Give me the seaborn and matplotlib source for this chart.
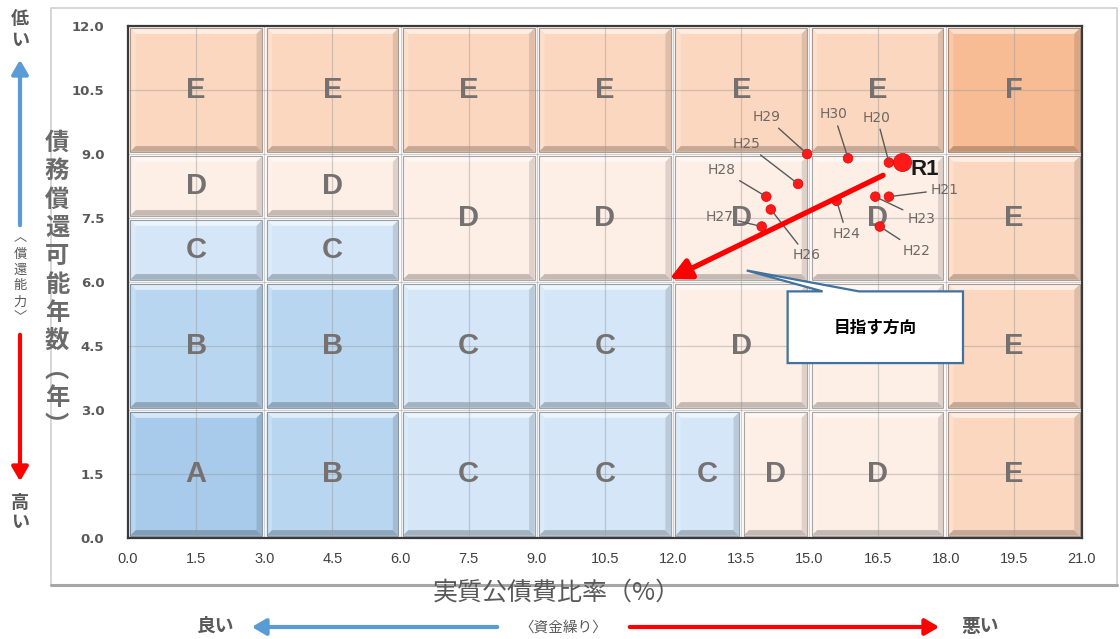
import numpy as np
import pandas as pd
import matplotlib
matplotlib.use("Agg")
import matplotlib.pyplot as plt
import matplotlib.colors as mcolors
from matplotlib.patches import Rectangle, Polygon, FancyArrowPatch
from matplotlib.lines import Line2D
import seaborn as sns

# ---------------- data ----------------
# grade cells: x-range, y-range, grade
cell_x0 = [0, 3, 6, 9, 12, 15, 18,
           0, 3, 0, 3, 6, 9, 12, 15, 18,
           0, 3, 6, 9, 12, 15, 18,
           0, 3, 6, 9, 12, 13.5, 15, 18]
cell_x1 = [3, 6, 9, 12, 15, 18, 21,
           3, 6, 3, 6, 9, 12, 15, 18, 21,
           3, 6, 9, 12, 15, 18, 21,
           3, 6, 9, 12, 13.5, 15, 18, 21]
cell_y0 = [9, 9, 9, 9, 9, 9, 9,
           7.5, 7.5, 6, 6, 6, 6, 6, 6, 6,
           3, 3, 3, 3, 3, 3, 3,
           0, 0, 0, 0, 0, 0, 0, 0]
cell_y1 = [12, 12, 12, 12, 12, 12, 12,
           9, 9, 7.5, 7.5, 9, 9, 9, 9, 9,
           6, 6, 6, 6, 6, 6, 6,
           3, 3, 3, 3, 3, 3, 3, 3]
cell_grade = ["E", "E", "E", "E", "E", "E", "F",
              "D", "D", "C", "C", "D", "D", "D", "D", "E",
              "B", "B", "C", "C", "D", "D", "E",
              "A", "B", "C", "C", "C", "D", "D", "E"]

# yearly results: 実質公債費比率 (%), 債務償還可能年数 (年)
years = ["H20", "H21", "H22", "H23", "H24", "H25", "H26", "H27", "H28", "H29", "H30", "R1"]
ratio = [16.75, 16.75, 16.55, 16.45, 15.6, 14.75, 14.15, 13.95, 14.05, 14.95, 15.85, 17.05]
years_repay = [8.8, 8.0, 7.3, 8.0, 7.9, 8.3, 7.7, 7.3, 8.0, 9.0, 8.9, 8.8]

x_ticks = [0.0, 1.5, 3.0, 4.5, 6.0, 7.5, 9.0, 10.5, 12.0, 13.5, 15.0, 16.5, 18.0, 19.5, 21.0]
y_ticks = [0.0, 1.5, 3.0, 4.5, 6.0, 7.5, 9.0, 10.5, 12.0]

x_title = "実質公債費比率（%）"
y_title = "債務償還可能年数︵年︶"

# ---------------- styles ----------------
grade_colors = {"A": "#A8CAEB", "B": "#B9D6F0", "C": "#D4E6F8",
                "D": "#FDEEE6", "E": "#FCD7C0", "F": "#F8BC94"}
label_offsets = {  # pixel offsets of point labels
    "H20": (-12, 45), "H21": (56, 7), "H22": (37, -24), "H23": (46, -22),
    "H24": (10, -33), "H25": (-52, 40), "H26": (36, -46), "H27": (-42, 10),
    "H28": (-45, 27), "H29": (-41, 37), "H30": (-14, 44), "R1": (22, -7),
}

sns.set_theme(style="white")
plt.rcParams["font.family"] = ["Noto Sans CJK JP", "DejaVu Sans"]

W, H = 1120, 639
fig = plt.figure(figsize=(W / 100, H / 100), dpi=100)
fig.patch.set_facecolor("white")

L, R, T, B = 128, 1082, 26, 538
ax = fig.add_axes([L / W, 1 - B / H, (R - L) / W, (B - T) / H])
ax.set_xlim(0, 21)
ax.set_ylim(0, 12)
ax.set_facecolor("white")


def px(x, y):
    return (x / W, 1 - y / H)


def shade(c, f):
    r = np.array(mcolors.to_rgb(c))
    if f >= 0:
        return tuple(r + (1 - r) * f)
    return tuple(r * (1 + f))


# ---------------- cells with bevel ----------------
gx, gy = 0.05, 0.055
bx, by = 0.12, 0.13
for x0, x1, y0, y1, g in zip(cell_x0, cell_x1, cell_y0, cell_y1, cell_grade):
    c = grade_colors[g]
    a0, a1, b0, b1 = x0 + gx, x1 - gx, y0 + gy, y1 - gy
    ax.add_patch(Rectangle((a0, b0), a1 - a0, b1 - b0, facecolor=c, edgecolor="none", zorder=1))
    ax.add_patch(Polygon([(a0, b1), (a1, b1), (a1 - bx, b1 - by), (a0 + bx, b1 - by)],
                         facecolor=shade(c, 0.55), edgecolor="none", zorder=1.1))
    ax.add_patch(Polygon([(a0, b0), (a0, b1), (a0 + bx, b1 - by), (a0 + bx, b0 + by)],
                         facecolor=shade(c, 0.2), edgecolor="none", zorder=1.1))
    ax.add_patch(Polygon([(a0, b0), (a1, b0), (a1 - bx, b0 + by), (a0 + bx, b0 + by)],
                         facecolor=shade(c, -0.22), edgecolor="none", zorder=1.1))
    ax.add_patch(Polygon([(a1, b0), (a1, b1), (a1 - bx, b1 - by), (a1 - bx, b0 + by)],
                         facecolor=shade(c, -0.12), edgecolor="none", zorder=1.1))
    ax.add_patch(Rectangle((a0, b0), a1 - a0, b1 - b0, facecolor="none",
                           edgecolor=shade(c, -0.45), lw=0.8, alpha=0.7, zorder=1.2))
    cx, cy = (x0 + x1) / 2, (y0 + y1) / 2
    # the label of a cell hidden under the callout box is not drawn (as in the reference)
    if not (14.5 < cx < 18.4 and 4.1 < cy < 5.8):
        ax.text(cx, cy, g, ha="center", va="center",
                fontsize=21, fontweight="bold", color="#767171",
                family=["Liberation Sans", "DejaVu Sans"], zorder=3)

# ---------------- axes styling ----------------
ax.set_xticks(x_ticks)
ax.set_yticks(y_ticks)
ax.set_xticklabels([f"{v:.1f}" for v in x_ticks], family=["Liberation Sans Narrow", "Liberation Sans"],
                   fontsize=10.5, color="#404040")
ax.set_yticklabels([f"{v:.1f}" for v in y_ticks], family=["DejaVu Sans"],
                   fontsize=9.5, fontweight="bold", color="#595959")
ax.tick_params(axis="both", length=0)
ax.tick_params(axis="y", pad=17)
ax.tick_params(axis="x", pad=10)
ax.grid(True, color="#9a9a9a", lw=0.9, alpha=0.45)
ax.set_axisbelow(False)
for s in ax.spines.values():
    s.set_color("#3a3a3a")
    s.set_linewidth(1.6)
    s.set_zorder(8)

# ---------------- points ----------------
df = pd.DataFrame({"year": years, "x": ratio, "y": years_repay})
df["kind"] = np.where(df["year"].str.startswith("R"), "R", "H")
sns.scatterplot(data=df, x="x", y="y", size="kind", sizes={"H": 48, "R": 170},
                color="#FF1A1A", edgecolor="#E00000", linewidth=0.5, legend=False, ax=ax, zorder=6)
ax.set_xlabel("")
ax.set_ylabel("")

for _, r in df.iterrows():
    dx, dy = label_offsets[r["year"]]
    if r["kind"] == "R":
        ax.annotate(r["year"], xy=(r["x"], r["y"]), xytext=(dx, dy), textcoords="offset pixels",
                    ha="center", va="center", fontsize=16, fontweight="bold", color="#1a1a1a",
                    family=["Liberation Sans", "DejaVu Sans"], zorder=7)
    else:
        ax.annotate(r["year"], xy=(r["x"], r["y"]), xytext=(dx, dy), textcoords="offset pixels",
                    ha="center", va="center", fontsize=10, color="#6e6864",
                    family=["DejaVu Sans"], zorder=7,
                    arrowprops=dict(arrowstyle="-", color="#595959", lw=1.0, shrinkA=1, shrinkB=3))

# direction arrow
ax.annotate("", xy=(11.92, 6.07), xytext=(16.62, 8.5),
            arrowprops=dict(arrowstyle="-|>,head_length=0.9,head_width=0.45", color="#FF0000",
                            lw=3.8, mutation_scale=14, shrinkA=0, shrinkB=0), zorder=7)

# callout
bx0, bx1, by0, by1 = 14.52, 18.38, 4.10, 5.78
ax.add_patch(Polygon([(bx0, by1), (15.29, by1), (13.62, 6.27), (16.09, by1), (bx1, by1),
                      (bx1, by0), (bx0, by0)], closed=True, facecolor="white",
                     edgecolor="#41719C", lw=1.6, zorder=9))
ax.text((bx0 + bx1) / 2, (by0 + by1) / 2, "目指す方向", ha="center", va="center",
        fontsize=12, fontweight="bold", color="black", zorder=10)

# ---------------- outer frame and annotations ----------------
fig.add_artist(Rectangle(px(51, 585), 1066 / W, 577 / H, transform=fig.transFigure,
                         facecolor="none", edgecolor="#d0d0d0", lw=1.2, zorder=0))
fig.add_artist(Line2D([51 / W, 1117 / W], [1 - 585 / H] * 2, transform=fig.transFigure,
                      color="#a6a6a6", lw=2.2))

# y title stacked vertically
for i, ch in enumerate(y_title):
    fig.text(*px(57, 143 + i * 28.3), ch, ha="center", va="center", fontsize=17.5,
             fontweight="bold", color="#6b6b6b")

# x title
fig.text(*px(557, 593), x_title, ha="center", va="center", fontsize=18, color="#595959")

# left scale annotation
gray = "#595959"
for i, ch in enumerate("低い"):
    fig.text(*px(20, 19 + i * 21), ch, ha="center", va="center", fontsize=13, fontweight="bold", color=gray)
for i, ch in enumerate("高い"):
    fig.text(*px(20, 502 + i * 21), ch, ha="center", va="center", fontsize=13, fontweight="bold", color=gray)
for i, ch in enumerate("︿償還能力﹀"):
    fig.text(*px(20, 238 + i * 16), ch, ha="center", va="center", fontsize=9.5, color=gray)
fig.add_artist(FancyArrowPatch(px(20, 228), px(20, 57), transform=fig.transFigure,
                               arrowstyle="-|>,head_length=0.6,head_width=0.35", mutation_scale=14,
                               color="#5B9BD5", lw=3))
fig.add_artist(FancyArrowPatch(px(20, 332), px(20, 484), transform=fig.transFigure,
                               arrowstyle="-|>,head_length=0.6,head_width=0.35", mutation_scale=14,
                               color="#FF0000", lw=3))

# bottom scale annotation
fig.text(*px(216, 626), "良い", ha="center", va="center", fontsize=13.5, fontweight="bold", color=gray)
fig.text(*px(980, 626), "悪い", ha="center", va="center", fontsize=13.5, fontweight="bold", color=gray)
fig.text(*px(563, 628), "〈資金繰り〉", ha="center", va="center", fontsize=10.5, color=gray)
fig.add_artist(FancyArrowPatch(px(500, 627), px(249, 627), transform=fig.transFigure,
                               arrowstyle="-|>,head_length=0.6,head_width=0.35", mutation_scale=14,
                               color="#5B9BD5", lw=3))
fig.add_artist(FancyArrowPatch(px(627, 627), px(942, 627), transform=fig.transFigure,
                               arrowstyle="-|>,head_length=0.6,head_width=0.35", mutation_scale=14,
                               color="#FF0000", lw=3))

fig.savefig("out.png", dpi=100, facecolor="white")
